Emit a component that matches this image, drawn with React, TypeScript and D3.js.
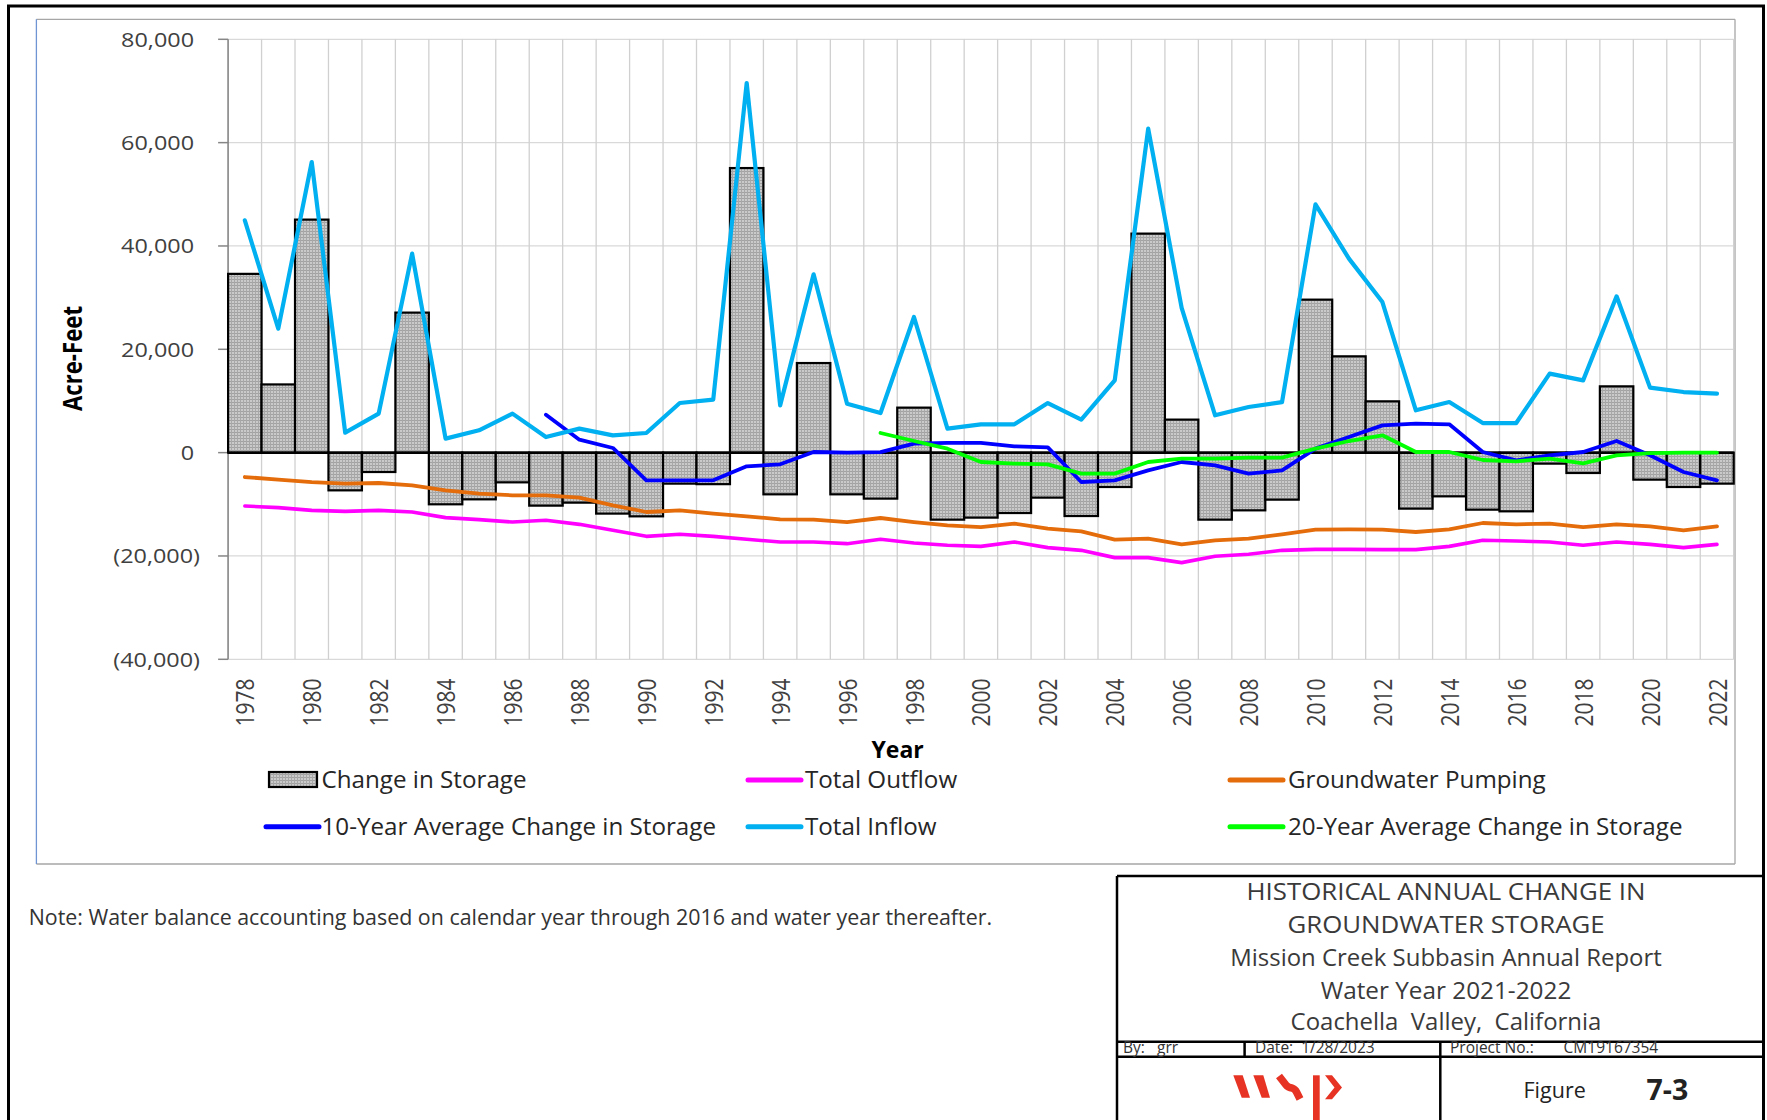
import React from "react";
import * as d3 from "d3";

const years: number[] = d3.range(1978, 2023);

const changeInStorage: number[] = [
  34600, 13200, 45100, -7300, -3750, 27100, -10000, -9040, -5750, -10260,
  -9680, -11800, -12330, -6000, -6100, 55080, -8070, 17340, -8070, -8900,
  8710, -12970, -12580, -11690, -8710, -12270, -6650, 42390, 6390, -12970,
  -11170, -9100, 29610, 18640, 9930, -10840, -8460, -11040, -11360, -2130,
  -3940, 12830, -5230, -6650, -6000,
];

const totalInflow: number[] = [
  44960, 24000, 56250, 3870, 7550, 38520, 2710, 4320, 7550, 3020,
  4650, 3350, 3800, 9600, 10260, 71540, 9150, 34510, 9480, 7670,
  26250, 4650, 5480, 5480, 9600, 6390, 13990, 62700, 28000, 7220,
  8830, 9790, 48060, 37550, 29150, 8190, 9790, 5730, 5730, 15290,
  13990, 30250, 12580, 11730, 11420,
];

const groundwaterPumping: number[] = [
  -4720, -5230, -5690, -6000, -5880, -6330, -7300, -7940, -8260, -8260,
  -8710, -10200, -11490, -11170, -11810, -12330, -12910, -12970, -13430, -12650,
  -13430, -14070, -14400, -13740, -14710, -15230, -16840, -16650, -17750, -16970,
  -16650, -15810, -14900, -14850, -14900, -15360, -14850, -13620, -13880, -13740,
  -14400, -13880, -14260, -15040, -14260,
];

const totalOutflow: number[] = [
  -10330, -10650, -11170, -11360, -11170, -11490, -12580, -12970, -13430, -13100,
  -13880, -15040, -16200, -15810, -16200, -16780, -17300, -17300, -17620, -16780,
  -17490, -17940, -18140, -17300, -18390, -18910, -20320, -20320, -21290, -20070,
  -19680, -18910, -18720, -18720, -18780, -18780, -18140, -16970, -17110, -17300,
  -17940, -17300, -17750, -18390, -17750,
];

const tenYearAvg: (number | null)[] = [
  null, null, null, null, null, null, null, null, null, 7350,
  2500, 900, -5360, -5360, -5360, -2650, -2260, 120, 0, 100,
  1740, 1870, 1870, 1220, 1030, -5680, -5360, -3430, -1810, -2460,
  -4070, -3430, 770, 3020, 5280, 5610, 5480, 120, -1490, -520,
  120, 2250, -520, -3750, -5360,
];

const twentyYearAvg: (number | null)[] = [
  null, null, null, null, null, null, null, null, null, null,
  null, null, null, null, null, null, null, null, null, 3800,
  2250, 770, -1810, -2130, -2260, -4070, -4070, -1810, -1160, -1160,
  -970, -970, 770, 2250, 3350, 120, 120, -1430, -1680, -1160,
  -2070, -520, -80, 0, 0,
];

const yTicks: number[] = [-40000, -20000, 0, 20000, 40000, 60000, 80000];
const xTickYears: number[] = years.filter((y) => (y - 1978) % 2 === 0);

const titleLines: string[] = [
  "HISTORICAL ANNUAL CHANGE IN",
  "GROUNDWATER STORAGE",
  "Mission Creek Subbasin Annual Report",
  "Water Year 2021-2022",
  "Coachella  Valley,  California",
];

const FONT = "'Open Sans', 'Noto Sans', sans-serif";

const C_INFLOW = "#00B0F0";
const C_OUTFLOW = "#FF00FF";
const C_PUMP = "#E46C0A";
const C_TEN = "#0000FF";
const C_TWENTY = "#00FF00";

export default function App() {
  const W = 1767;
  const H = 1120;
  const plotL = 228.1;
  const plotR = 1733.7;
  const plotT = 39.3;
  const plotB = 659.3;

  const x = d3.scaleBand<number>().domain(years).range([plotL, plotR]).padding(0);
  const y = d3.scaleLinear().domain([-40000, 80000]).range([plotB, plotT]);
  const cx = (yr: number) => (x(yr) as number) + x.bandwidth() / 2;

  const fmt = d3.format(",");
  const fmtTick = (v: number) => (v < 0 ? `(${fmt(-v)})` : fmt(v));

  const line = d3
    .line<number | null>()
    .defined((d) => d !== null)
    .x((_, i) => cx(years[i]))
    .y((d) => y(d as number));

  const series = [
    { data: totalOutflow as (number | null)[], color: C_OUTFLOW, w: 3.6 },
    { data: groundwaterPumping as (number | null)[], color: C_PUMP, w: 3.8 },
    { data: tenYearAvg, color: C_TEN, w: 3.8 },
    { data: totalInflow as (number | null)[], color: C_INFLOW, w: 4.2 },
    { data: twentyYearAvg, color: C_TWENTY, w: 3.8 },
  ];

  const gridBoundaries = d3.range(years.length + 1).map((i) => plotL + i * x.bandwidth());

  const legendRows = [780, 826.7];
  const legendCols = [
    { lx: 266, tx: 321.5 },
    { lx: 748, tx: 805 },
    { lx: 1230, tx: 1288 },
  ];
  const legendItems = [
    { label: "Change in Storage", type: "bar", color: "", r: 0, c: 0 },
    { label: "Total Outflow", type: "line", color: C_OUTFLOW, r: 0, c: 1 },
    { label: "Groundwater Pumping", type: "line", color: C_PUMP, r: 0, c: 2 },
    { label: "10-Year Average Change in Storage", type: "line", color: C_TEN, r: 1, c: 0 },
    { label: "Total Inflow", type: "line", color: C_INFLOW, r: 1, c: 1 },
    { label: "20-Year Average Change in Storage", type: "line", color: C_TWENTY, r: 1, c: 2 },
  ];

  const tbL = 1117;
  const tbR = 1763.5;
  const tbT = 876;
  const tbCx = 1446;
  const titleY = [891.5, 924.5, 957.5, 990.5, 1022];
  const titleSx = [1.1, 1.1, 1.02, 1.035, 1.02];

  return (
    <div style={{ position: "absolute", left: 0, top: 0 }}>
      <svg width={W} height={H} style={{ display: "block", fontFamily: FONT }}>
        <defs>
          <pattern id="hatch" width="3" height="3" patternUnits="userSpaceOnUse">
            <rect width="3" height="3" fill="#CACACA" />
            <rect width="3" height="1" fill="#A2A2A2" />
            <rect width="1" height="3" fill="#A8A8A8" />
          </pattern>
        </defs>
        <rect x={0} y={0} width={W} height={H} fill="#fff" />

        {/* outer frame */}
        <rect x={8.5} y={6} width={1755} height={H + 10} fill="none" stroke="#000" strokeWidth={3} />

        {/* chart area border */}
        <line x1={36.4} y1={19.3} x2={1735} y2={19.3} stroke="#A6A6A6" strokeWidth={1.3} />
        <line x1={1735} y1={19.3} x2={1735} y2={864} stroke="#A6A6A6" strokeWidth={1.3} />
        <line x1={36.4} y1={864} x2={1735} y2={864} stroke="#A6A6A6" strokeWidth={1.3} />
        <line x1={36.4} y1={19.3} x2={36.4} y2={864} stroke="#6F95D3" strokeWidth={1.3} />

        {/* gridlines */}
        {yTicks.map((t) => (
          <line key={"gy" + t} x1={plotL} x2={plotR} y1={y(t)} y2={y(t)} stroke="#D9D9D9" strokeWidth={1.3} />
        ))}
        {gridBoundaries.map((gx, i) => (
          <line key={"gx" + i} x1={gx} x2={gx} y1={plotT} y2={plotB} stroke="#D0D0D0" strokeWidth={1.3} />
        ))}

        {/* y axis */}
        <line x1={plotL} x2={plotL} y1={plotT} y2={plotB} stroke="#868686" strokeWidth={1.5} />
        {yTicks.map((t) => (
          <g key={"yt" + t}>
            <line x1={plotL - 10} x2={plotL} y1={y(t)} y2={y(t)} stroke="#868686" strokeWidth={1.5} />
            <text
              transform={`translate(${t < 0 ? 200 : 194},${y(t)}) scale(1.17,1)`}
              dy="0.36em"
              textAnchor="end"
              fontSize={20}
              fill="#404040"
            >
              {fmtTick(t)}
            </text>
          </g>
        ))}

        {/* bars */}
        {years.map((yr, i) => {
          const v = changeInStorage[i];
          const y0 = y(0);
          const y1 = y(v);
          return (
            <rect
              key={"b" + yr}
              x={x(yr)}
              y={Math.min(y0, y1)}
              width={x.bandwidth()}
              height={Math.abs(y1 - y0)}
              fill="url(#hatch)"
              stroke="#000"
              strokeWidth={2.2}
            />
          );
        })}

        {/* zero line */}
        <line x1={plotL} x2={plotR} y1={y(0)} y2={y(0)} stroke="#000" strokeWidth={2.5} />

        {/* lines */}
        {series.map((s, i) => (
          <path
            key={"s" + i}
            d={line(s.data) || ""}
            fill="none"
            stroke={s.color}
            strokeWidth={s.w}
            strokeLinejoin="round"
            strokeLinecap="round"
          />
        ))}

        {/* x tick labels */}
        {xTickYears.map((yr) => (
          <text
            key={"xt" + yr}
            transform={`translate(${cx(yr) + 0.5},678.5) scale(1.2,1) rotate(-90)`}
            textAnchor="end"
            dy="0.36em"
            fontSize={21}
            fill="#404040"
          >
            {yr}
          </text>
        ))}

        {/* axis titles */}
        <text
          transform="translate(72,358.5) scale(1.22,1) rotate(-90)"
          textAnchor="middle"
          dy="0.36em"
          fontSize={22.2}
          fontWeight="bold"
          fill="#000"
        >
          Acre-Feet
        </text>
        <text x={897.6} y={758} textAnchor="middle" fontSize={23} fontWeight="bold" fill="#000">
          Year
        </text>

        {/* legend */}
        {legendItems.map((it) => {
          const ly = legendRows[it.r];
          const col = legendCols[it.c];
          return (
            <g key={it.label}>
              {it.type === "bar" ? (
                <rect x={269} y={ly - 8} width={48} height={15} fill="url(#hatch)" stroke="#000" strokeWidth={2.2} />
              ) : (
                <line x1={col.lx} x2={col.lx + 53} y1={ly} y2={ly} stroke={it.color} strokeWidth={5} strokeLinecap="round" />
              )}
              <text x={col.tx} y={ly} dy="0.35em" fontSize={24.2} fill="#262626">
                {it.label}
              </text>
            </g>
          );
        })}

        {/* note */}
        <text x={28.7} y={918} dy="0.35em" fontSize={21.4} fill="#333">
          Note: Water balance accounting based on calendar year through 2016 and water year thereafter.
        </text>

        {/* title block */}
        <g stroke="#000" strokeWidth={2.5} fill="none">
          <line x1={tbL} x2={tbR} y1={tbT} y2={tbT} />
          <line x1={tbL} x2={tbL} y1={tbT} y2={H} />
          <line x1={tbR} x2={tbR} y1={tbT} y2={H} />
          <line x1={tbL} x2={tbR} y1={1041.7} y2={1041.7} />
          <line x1={tbL} x2={tbR} y1={1056.7} y2={1056.7} />
          <line x1={1244.6} x2={1244.6} y1={1041.7} y2={1056.7} />
          <line x1={1440.3} x2={1440.3} y1={1041.7} y2={H} />
        </g>
        {titleLines.map((t, i) => (
          <text
            key={t}
            transform={`translate(${tbCx},${titleY[i]}) scale(${titleSx[i]},1)`}
            dy="0.36em"
            textAnchor="middle"
            fontSize={23.5}
            fill="#3A3A3A"
            style={{ whiteSpace: "pre" }}
          >
            {t}
          </text>
        ))}
        <text x={1123} y={1053} fontSize={15.5} fill="#333">By:</text>
        <text x={1157} y={1053} fontSize={15.5} fill="#333">grr</text>
        <text x={1255} y={1053} fontSize={15.5} fill="#333" style={{ whiteSpace: "pre" }}>
          {"Date:  1/28/2023"}
        </text>
        <text x={1450} y={1053} fontSize={15.5} fill="#333">Project No.:</text>
        <text x={1563.6} y={1053} fontSize={15.5} fill="#333">CM19167354</text>
        <text x={1523.5} y={1090} dy="0.36em" fontSize={21.5} fill="#222">
          Figure
        </text>
        <text x={1646.5} y={1090} dy="0.36em" fontSize={28.5} fontWeight="bold" fill="#222">
          7-3
        </text>

        {/* wsp logo */}
        <g fill="#E63323" stroke="none">
          <polygon points="1233.3,1075.3 1242.7,1075.3 1250,1097.7 1241.7,1097.7" />
          <polygon points="1253.3,1075.3 1263.3,1075.3 1270,1097.7 1261.7,1097.7" />
          <polygon points="1313,1075.3 1319.7,1075.3 1319.7,1120 1313,1120" />
          <polygon points="1325,1075.3 1332,1075.3 1342,1087.5 1332,1099.3 1325,1099.3 1334.5,1087.5" />
        </g>
        <path
          d="M1279,1076 L1286,1085 Q1288,1087.5 1292,1088 Q1295,1089 1296.5,1092 L1300,1099"
          fill="none"
          stroke="#E63323"
          strokeWidth={7.5}
          strokeLinejoin="round"
        />
      </svg>
    </div>
  );
}
